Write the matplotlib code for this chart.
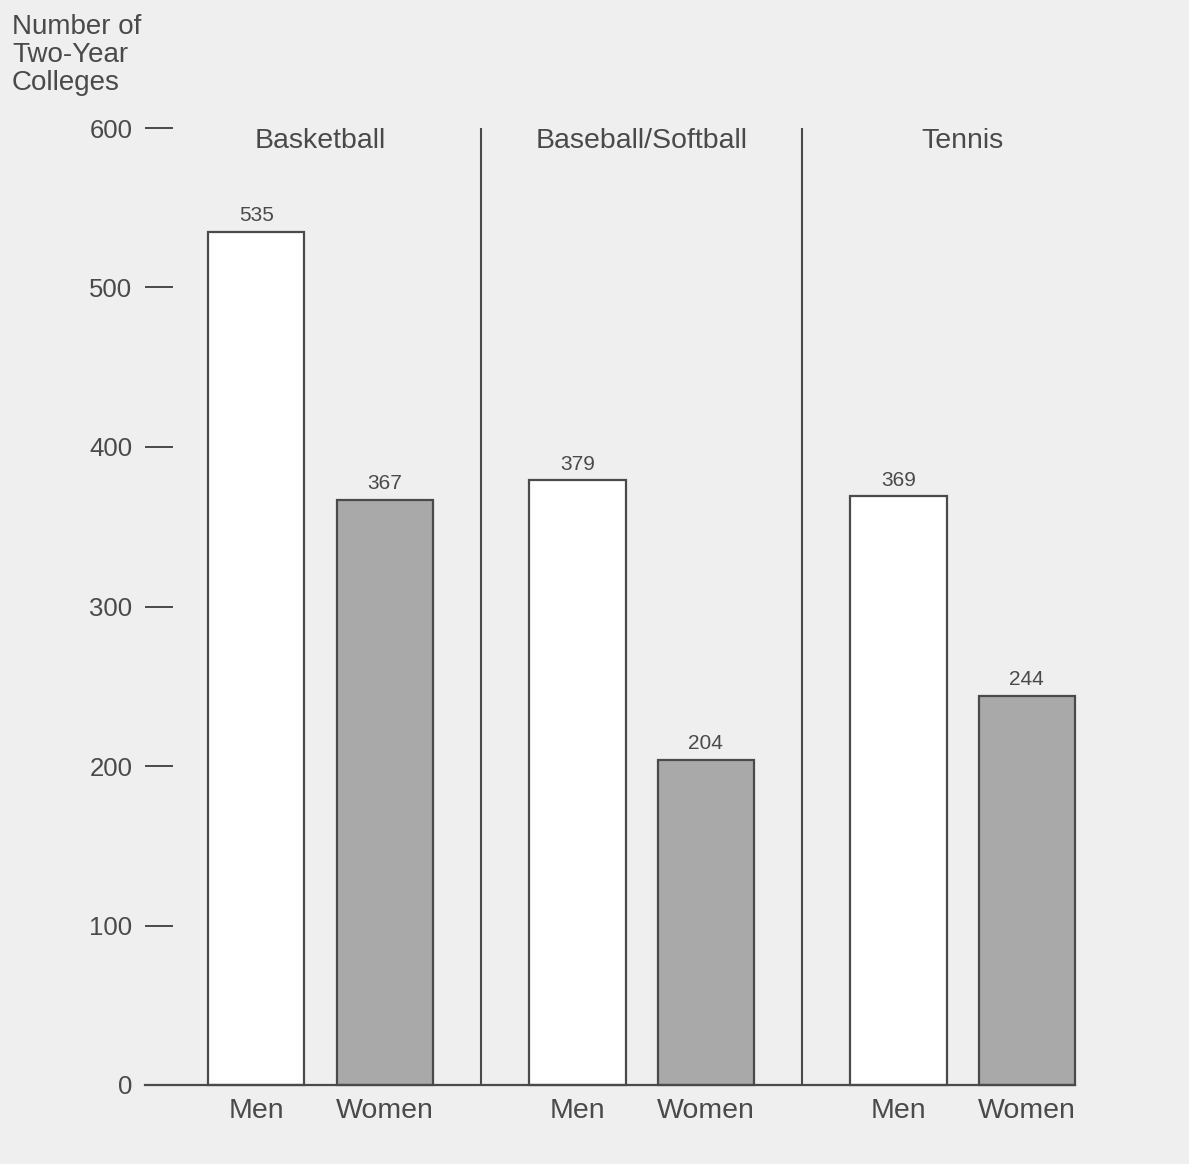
import matplotlib.pyplot as plt

plt.rcParams["font.family"] = ["Liberation Sans", "DejaVu Sans"]

sports = ["Basketball", "Baseball/Softball", "Tennis"]
genders = ["Men", "Women"]
men = [535, 379, 369]
women = [367, 204, 244]
yticks = [0, 100, 200, 300, 400, 500, 600]

ink = "#4a4a4a"
bg = "#efefef"

fig = plt.figure(figsize=(11.89, 11.64), dpi=100, facecolor=bg)
ax = fig.add_axes([145 / 1189, 1 - 1085 / 1164, (1075 - 145) / 1189, (1085 - 128) / 1164])
ax.set_facecolor(bg)

group_gap = 2.5
width = 0.75
for g, sport in enumerate(sports):
    x0 = g * group_gap
    for k, (val, col) in enumerate([(men[g], "white"), (women[g], "#a9a9a9")]):
        x = x0 + k
        ax.bar(x, val, width=width, color=col, edgecolor=ink, linewidth=1.6,
               zorder=2, clip_on=False)
        ax.annotate(str(val), (x, val), xytext=(0, 5), textcoords="offset points",
                    ha="center", va="bottom", fontsize=15, color=ink)
        ax.text(x, -8, genders[k], ha="center", va="top", fontsize=20.5, color=ink)
    ax.text(x0 + 0.5, 592, sport, ha="center", va="center", fontsize=20.5, color=ink)
    if g > 0:
        ax.vlines(x0 - 0.75, 0, 600, color=ink, linewidth=1.5)

ax.set_xlim(-0.867, 6.375)
ax.set_ylim(0, 600)
ax.set_xticks([])
ax.set_yticks(yticks)
ax.set_yticklabels([str(t) for t in yticks])
ax.tick_params(axis="y", direction="in", length=20, width=1.4, color=ink,
               labelsize=18.5, labelcolor=ink, pad=9)
for s in ["left", "right", "top"]:
    ax.spines[s].set_visible(False)
ax.spines["bottom"].set_color(ink)
ax.spines["bottom"].set_linewidth(1.6)

fig.text(12 / 1189, 1 - 14 / 1164, "Number of\nTwo-Year\nColleges", ha="left", va="top",
         fontsize=20, color=ink, linespacing=1.1)

fig.savefig("out.png", dpi=100, facecolor=bg)
